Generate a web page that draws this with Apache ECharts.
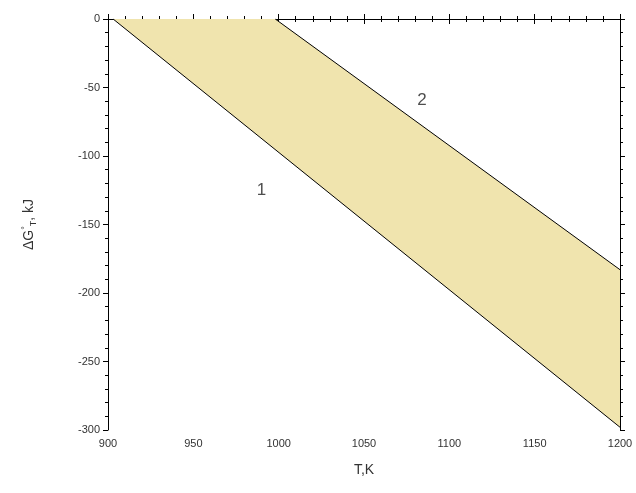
<!DOCTYPE html>
<html><head><meta charset="utf-8">
<script src="https://cdn.jsdelivr.net/npm/echarts@6/dist/echarts.min.js"></script>
<style>html,body{margin:0;padding:0;background:#fff}#c{width:636px;height:493px}</style>
</head><body><div id="c"></div>
<script>
// Line 1 and line 2 endpoints (T in K, ΔG in kJ)
const line1T = [903, 1200];
const line1G = [0, -298];
const line2T = [998, 1200];
const line2G = [0, -183];
const labelNames = ['1', '2'];
const labelT = [990, 1084];
const labelG = [-125, -59];
const xTicks = [900, 950, 1000, 1050, 1100, 1150, 1200];
const yTicks = [0, -50, -100, -150, -200, -250, -300];

const l1 = line1T.map((t, i) => [t, line1G[i]]);
const l2 = line2T.map((t, i) => [t, line2G[i]]);
const poly = [l1[0], l2[0], l2[1], l1[1]];

const font = 'Liberation Sans, Arial, sans-serif';
const axisCommon = {
  axisLine: {lineStyle: {color: '#000', width: 1}},
  axisTick: {show: true, inside: false, length: 5, lineStyle: {color: '#000'}},
  minorTick: {show: true, splitNumber: 5, length: 3, lineStyle: {color: '#000'}},
  splitLine: {show: false},
};
const chart = echarts.init(document.getElementById('c'), null, {renderer: 'canvas'});
chart.setOption({
  animation: false,
  grid: {left: 108, right: 16, top: 19, bottom: 63},
  xAxis: [
    Object.assign({type: 'value', position: 'bottom', min: xTicks[0], max: xTicks[xTicks.length - 1], interval: 50,
      name: 'T,K', nameLocation: 'middle', nameGap: 33,
      nameTextStyle: {fontFamily: font, fontSize: 14, color: '#333'},
      axisLabel: {fontFamily: font, fontSize: 11, color: '#333', margin: 8, formatter: v => String(v)}}, axisCommon),
    Object.assign({type: 'value', position: 'top', min: xTicks[0], max: xTicks[xTicks.length - 1], interval: 50,
      axisLabel: {show: false}}, axisCommon)
  ],
  yAxis: [
    Object.assign({type: 'value', position: 'left', min: yTicks[yTicks.length - 1], max: yTicks[0], interval: 50,
      name: '{a|ΔG}{s|°}{b|T}{a|, kJ}', nameLocation: 'middle', nameGap: 70,
      nameTextStyle: {rich: {
        a: {fontFamily: font, fontSize: 14, color: '#333'},
        s: {fontFamily: font, fontSize: 9, color: '#333', verticalAlign: 'top', padding: [0, 0, 8, 0]},
        b: {fontFamily: font, fontSize: 9, color: '#333', verticalAlign: 'bottom', padding: [6, 0, 0, 0]}
      }},
      axisLabel: {fontFamily: font, fontSize: 11, color: '#333', margin: 8, formatter: v => String(v)}}, axisCommon),
    Object.assign({type: 'value', position: 'right', min: yTicks[yTicks.length - 1], max: yTicks[0], interval: 50,
      axisLabel: {show: false}}, axisCommon)
  ],
  series: [
    {
      type: 'custom',
      coordinateSystem: 'cartesian2d',
      data: [0],
      renderItem: function (params, api) {
        return {
          type: 'polygon',
          shape: {points: poly.map(p => api.coord(p))},
          style: {fill: '#F0E4AE', stroke: null}
        };
      },
      z: 1,
      silent: true
    },
    {type: 'line', data: l1, symbol: 'none', lineStyle: {color: '#000', width: 1}, z: 3},
    {type: 'line', data: l2, symbol: 'none', lineStyle: {color: '#000', width: 1}, z: 3},
    {
      type: 'scatter', symbolSize: 0, z: 4,
      data: labelNames.map((n, i) => ({value: [labelT[i], labelG[i]], name: n})),
      label: {show: true, position: 'inside', formatter: p => p.name,
        fontFamily: font, fontSize: 17, color: '#222'}
    }
  ]
});
</script></body></html>
